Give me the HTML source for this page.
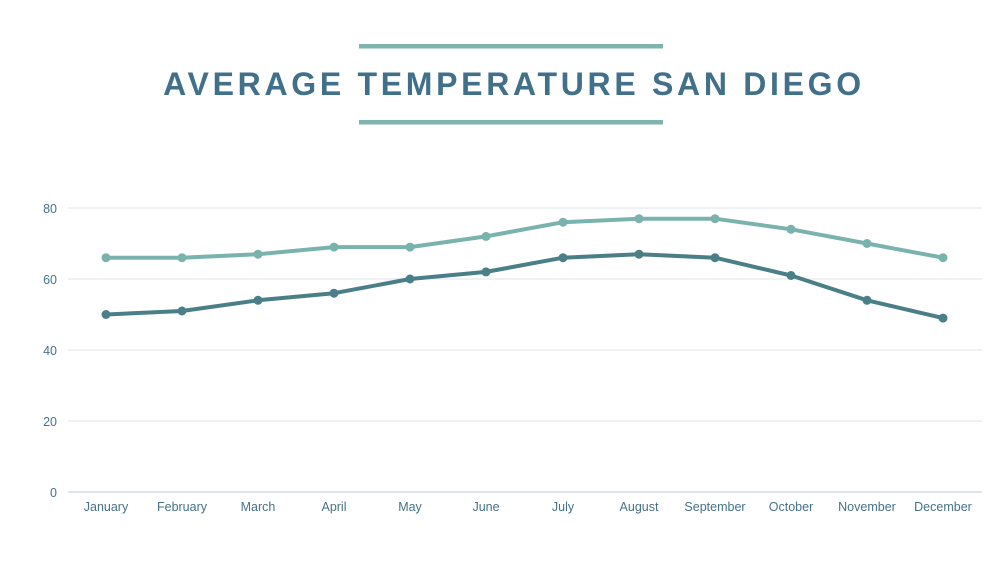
<!DOCTYPE html>
<html><head><meta charset="utf-8"><style>
html,body{margin:0;padding:0;background:#fff;}
svg{display:block;}
</style></head><body>
<svg width="1004" height="565" viewBox="0 0 1004 565" xmlns="http://www.w3.org/2000/svg">
<rect width="1004" height="565" fill="#ffffff"/>
<rect x="359" y="44" width="304" height="4.5" fill="#7fb3ae"/>
<rect x="359" y="120" width="304" height="4.5" fill="#7fb3ae"/>
<text x="514" y="95" text-anchor="middle" font-family="Liberation Sans, sans-serif" font-weight="bold" font-size="32" letter-spacing="3.7" fill="#41708a">AVERAGE TEMPERATURE SAN DIEGO</text>
<g stroke="#dde6ea" stroke-width="1">
<line x1="68" y1="208" x2="982" y2="208"/>
<line x1="68" y1="279" x2="982" y2="279"/>
<line x1="68" y1="350" x2="982" y2="350"/>
<line x1="68" y1="421" x2="982" y2="421"/>
</g>
<line x1="68" y1="492" x2="982" y2="492" stroke="#b5cdd6" stroke-width="1"/>
<g font-family="Liberation Sans, sans-serif" font-size="12.5" fill="#45728a">
<text x="57" y="213" text-anchor="end">80</text>
<text x="57" y="284" text-anchor="end">60</text>
<text x="57" y="355" text-anchor="end">40</text>
<text x="57" y="426" text-anchor="end">20</text>
<text x="57" y="497" text-anchor="end">0</text>
</g>
<g font-family="Liberation Sans, sans-serif" font-size="12.5" fill="#45728a" text-anchor="middle">
<text x="106" y="511">January</text><text x="182" y="511">February</text><text x="258" y="511">March</text>
<text x="334" y="511">April</text><text x="410" y="511">May</text><text x="486" y="511">June</text>
<text x="563" y="511">July</text><text x="639" y="511">August</text><text x="715" y="511">September</text>
<text x="791" y="511">October</text><text x="867" y="511">November</text><text x="943" y="511">December</text>
</g>
<polyline fill="none" stroke="#7ab3ad" stroke-width="4" stroke-linejoin="round" points="106,257.7 182,257.7 258,254.2 334,247.1 410,247.1 486,236.4 563,222.2 639,218.7 715,218.7 791,229.3 867,243.5 943,257.7"/>
<g fill="#7ab3ad">
<circle cx="106" cy="257.7" r="4.5"/><circle cx="182" cy="257.7" r="4.5"/><circle cx="258" cy="254.2" r="4.5"/><circle cx="334" cy="247.1" r="4.5"/><circle cx="410" cy="247.1" r="4.5"/><circle cx="486" cy="236.4" r="4.5"/><circle cx="563" cy="222.2" r="4.5"/><circle cx="639" cy="218.7" r="4.5"/><circle cx="715" cy="218.7" r="4.5"/><circle cx="791" cy="229.3" r="4.5"/><circle cx="867" cy="243.5" r="4.5"/><circle cx="943" cy="257.7" r="4.5"/>
</g>
<polyline fill="none" stroke="#4b7f87" stroke-width="4" stroke-linejoin="round" points="106,314.5 182,311 258,300.3 334,293.2 410,279 486,271.9 563,257.7 639,254.2 715,257.7 791,275.5 867,300.3 943,318.1"/>
<g fill="#4b7f87">
<circle cx="106" cy="314.5" r="4.5"/><circle cx="182" cy="311" r="4.5"/><circle cx="258" cy="300.3" r="4.5"/><circle cx="334" cy="293.2" r="4.5"/><circle cx="410" cy="279" r="4.5"/><circle cx="486" cy="271.9" r="4.5"/><circle cx="563" cy="257.7" r="4.5"/><circle cx="639" cy="254.2" r="4.5"/><circle cx="715" cy="257.7" r="4.5"/><circle cx="791" cy="275.5" r="4.5"/><circle cx="867" cy="300.3" r="4.5"/><circle cx="943" cy="318.1" r="4.5"/>
</g>
</svg>
</body></html>
